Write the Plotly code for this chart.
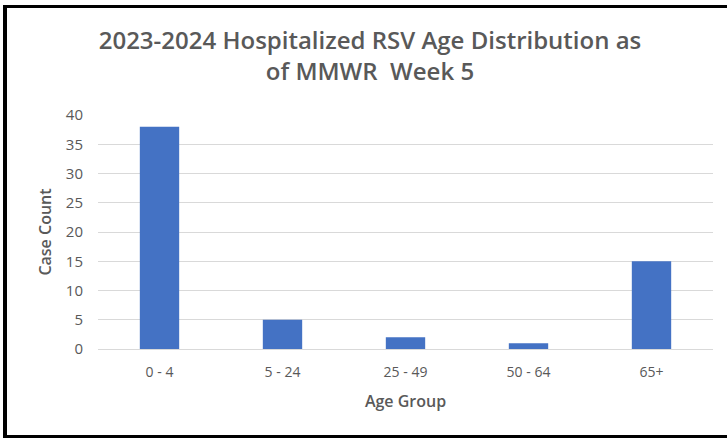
import plotly.graph_objects as go

categories = ["0 - 4", "5 - 24", "25 - 49", "50 - 64", "65+"]
case_counts = [38, 5, 2, 1, 15]
y_ticks = [0, 5, 10, 15, 20, 25, 30, 35, 40]

W, H = 727, 438
L, R, T, B = 98, 14, 115, 89
pw, ph = W - L - R, H - T - B

def px_x(x):
    return (x - L) / pw

def px_y(y):
    return (H - B - y) / ph

grey = "#595959"
font_family = "Open Sans, Noto Sans, sans-serif"

fig = go.Figure()
fig.add_trace(go.Bar(x=categories, y=case_counts, marker=dict(color="#4472C4", line=dict(width=0)),
                     width=0.32))

fig.update_layout(
    width=W, height=H,
    margin=dict(l=L, r=R, t=T, b=B),
    paper_bgcolor="white", plot_bgcolor="white",
    showlegend=False,
    font=dict(family=font_family, color=grey),
    title=dict(
        text="2023-2024 Hospitalized RSV Age Distribution as<br>of MMWR  Week 5",
        x=370 / W, xanchor="center",
        y=1 - 49 / H, yanchor="top",
        font=dict(size=24, color=grey, family=font_family, weight=600),
    ),
    xaxis=dict(
        showgrid=False, showline=True, linecolor="#D9D9D9", linewidth=1,
        ticks="", tickfont=dict(size=14, color=grey), ticklabelstandoff=10,
        title=dict(text="Age Group", font=dict(size=16, color=grey, weight=600), standoff=16),
    ),
    yaxis=dict(
        range=[0, 40], tickvals=y_ticks, showgrid=True, gridcolor="#D9D9D9", gridwidth=1,
        zeroline=False, showline=False, ticks="", ticklen=0,
        tickfont=dict(size=15, color=grey), ticklabelstandoff=14,
        title=dict(text="Case Count", font=dict(size=16, color=grey, weight=600), standoff=10),
    ),
    bargap=0.68,
    shapes=[
        dict(type="line", xref="paper", yref="paper", x0=px_x(3), x1=px_x(727), y0=px_y(6.5), y1=px_y(6.5),
             line=dict(color="black", width=3)),
        dict(type="line", xref="paper", yref="paper", x0=px_x(5), x1=px_x(5), y0=px_y(5), y1=px_y(438),
             line=dict(color="black", width=4)),
        dict(type="line", xref="paper", yref="paper", x0=px_x(3), x1=px_x(727), y0=px_y(436.5), y1=px_y(436.5),
             line=dict(color="black", width=3)),
    ],
)

fig.write_html("out.html", config={"displayModeBar": False},
               post_script="document.body.style.margin='0';document.body.style.overflow='hidden';")
